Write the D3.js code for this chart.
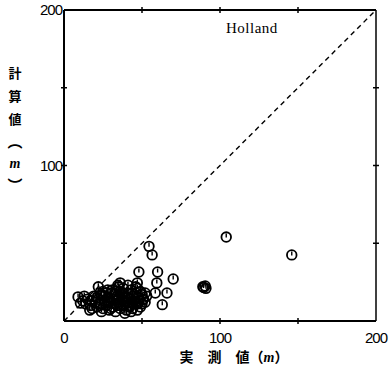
<!DOCTYPE html>
<html>
<head>
<meta charset="utf-8">
<script src="https://cdn.jsdelivr.net/npm/d3@7"></script>
<style>
body { margin: 0; background: #fff; }
svg { display: block; }
</style>
</head>
<body>
<script>
// measured (x) vs computed (y), metres
var measured = [104, 146, 89, 90.5, 91, 89.5, 54.5, 56.5, 48, 60, 70, 59.5, 58.5, 66, 63, 22, 9, 16.5, 34.5, 41, 47, 36, 10.5, 23, 47, 52, 45.5, 50.5,
  12, 14, 15, 17, 18, 19, 20, 21, 22, 23, 24, 25, 26, 27, 28, 29, 29, 30, 31, 32, 33, 33, 34, 35, 36, 36, 37, 38, 38, 39, 40, 40,
  41, 42, 42, 43, 44, 44, 45, 46, 47, 47, 48, 49, 49, 50, 51, 52, 53, 27, 31, 25, 18, 35, 46, 13, 24, 39, 43,
  21, 23, 26, 28, 30, 32, 34, 35, 37, 39, 41, 43, 45, 48, 50, 28, 33, 38, 44, 30, 36, 42];
var computed = [54, 42.5, 22, 22.5, 21, 21.5, 48, 42.5, 31.5, 31.5, 27, 24.5, 18, 18, 10.5, 22, 15.5, 7, 23, 23, 24.5, 24.5, 11.5, 18, 7, 12, 12, 13.5,
  13, 11, 14, 10, 13, 16, 12, 9, 14, 11, 17, 8, 13, 10, 15, 7, 12, 18, 9, 14, 11, 6, 16, 12, 8, 19, 14, 10, 21, 16, 12, 7,
  18, 14, 10, 20, 16, 8, 13, 18, 11, 21, 15, 9, 19, 17, 14, 18, 16, 18, 20, 19, 8, 22, 22, 16, 6, 5, 6,
  15, 10, 16, 12, 13, 17, 10, 14, 17, 12, 15, 12, 17, 12, 11, 20, 19, 18, 11, 8, 10, 9];
var tickVals = [0, 50, 100, 150, 200];
var tickLabels = [0, 100, 200];

var W = 390, H = 373;
var pLeft = 64, pRight = 376, pTop = 10, pBottom = 321;

var svg = d3.select("body").append("svg").attr("width", W).attr("height", H);

var x = d3.scaleLinear().domain([0, 200]).range([pLeft, pRight]);
var y = d3.scaleLinear().domain([0, 200]).range([pBottom, pTop]);

// frame
svg.append("line").attr("x1", pLeft).attr("y1", pTop).attr("x2", pLeft).attr("y2", pBottom).attr("stroke", "#000").attr("stroke-width", 2);
svg.append("line").attr("x1", pLeft).attr("y1", pBottom).attr("x2", pRight).attr("y2", pBottom).attr("stroke", "#000").attr("stroke-width", 2);
svg.append("line").attr("x1", pLeft).attr("y1", pTop).attr("x2", pRight).attr("y2", pTop).attr("stroke", "#000").attr("stroke-width", 2);
svg.append("line").attr("x1", pRight).attr("y1", pTop).attr("x2", pRight).attr("y2", pBottom).attr("stroke", "#000").attr("stroke-width", 1.5);

// cross ticks
var inner = tickVals.slice(1, 4);
svg.selectAll("line.tb").data(inner).enter().append("line").attr("class", "tb")
  .attr("x1", function(d){ return x(d); }).attr("x2", function(d){ return x(d); })
  .attr("y1", pBottom - 3).attr("y2", pBottom + 3).attr("stroke", "#000").attr("stroke-width", 1.5);
svg.selectAll("line.tt").data(inner).enter().append("line").attr("class", "tt")
  .attr("x1", function(d){ return x(d); }).attr("x2", function(d){ return x(d); })
  .attr("y1", pTop - 3).attr("y2", pTop + 3).attr("stroke", "#000").attr("stroke-width", 1.5);
svg.selectAll("line.tl").data(inner).enter().append("line").attr("class", "tl")
  .attr("y1", function(d){ return y(d); }).attr("y2", function(d){ return y(d); })
  .attr("x1", pLeft - 3).attr("x2", pLeft + 3).attr("stroke", "#000").attr("stroke-width", 1.5);
svg.selectAll("line.tr").data(inner).enter().append("line").attr("class", "tr")
  .attr("y1", function(d){ return y(d); }).attr("y2", function(d){ return y(d); })
  .attr("x1", pRight - 3).attr("x2", pRight + 3).attr("stroke", "#000").attr("stroke-width", 1.5);

// tick labels
svg.selectAll("text.xl").data(tickLabels).enter().append("text").attr("class", "xl")
  .attr("x", function(d){ return x(d); }).attr("y", pBottom + 22)
  .attr("text-anchor", "middle").attr("font-family", "Liberation Sans, Arial, sans-serif")
  .attr("font-size", 15).attr("letter-spacing", -1).text(function(d){ return d; });
svg.selectAll("text.yl").data(tickLabels.slice(1)).enter().append("text").attr("class", "yl")
  .attr("x", pLeft - 2).attr("y", function(d){ return y(d) + 5; })
  .attr("text-anchor", "end").attr("font-family", "Liberation Sans, Arial, sans-serif")
  .attr("font-size", 15).attr("letter-spacing", -1).text(function(d){ return d; });

// 1:1 line
svg.append("line").attr("x1", x(0)).attr("y1", y(0)).attr("x2", x(200)).attr("y2", y(200))
  .attr("stroke", "#000").attr("stroke-width", 1.4).attr("stroke-dasharray", "5,4");

// points
var pts = d3.range(measured.length).map(function(i){ return [measured[i], computed[i]]; });
var g = svg.append("g");
var m = g.selectAll("g.pt").data(pts).enter().append("g").attr("class", "pt")
  .attr("transform", function(d){ return "translate(" + x(d[0]) + "," + y(d[1]) + ")"; });
m.append("circle").attr("r", 4.8).attr("fill", "none").attr("stroke", "#000").attr("stroke-width", 1.8);
m.append("line").attr("x1", 0).attr("y1", -3.5).attr("x2", 0).attr("y2", 0.5).attr("stroke", "#000").attr("stroke-width", 1.4);

// title
svg.append("text").attr("x", 226).attr("y", 33).attr("font-family", "Liberation Serif, Times New Roman, serif")
  .attr("font-size", 15).attr("letter-spacing", 0.5).text("Holland");

// axis titles
var yChars = [["計", 78], ["算", 101], ["値", 124]];
svg.selectAll("text.yt").data(yChars).enter().append("text").attr("class", "yt")
  .attr("x", 15).attr("y", function(d){ return d[1]; }).attr("text-anchor", "middle")
  .attr("font-family", "Noto Sans CJK JP").attr("font-weight", "bold").attr("font-size", 13)
  .text(function(d){ return d[0]; });
svg.append("text").attr("x", 15).attr("y", 147).attr("text-anchor", "middle")
  .attr("font-family", "Noto Sans CJK JP").attr("font-weight", "bold").attr("font-size", 15).text("︵");
svg.append("text").attr("x", 15).attr("y", 168).attr("text-anchor", "middle")
  .attr("font-family", "Liberation Serif, serif").attr("font-style", "italic").attr("font-weight", "bold")
  .attr("font-size", 14).text("m");
svg.append("text").attr("x", 15).attr("y", 191).attr("text-anchor", "middle")
  .attr("font-family", "Noto Sans CJK JP").attr("font-weight", "bold").attr("font-size", 15).text("︶");

var xt = svg.append("text").attr("x", 234).attr("y", 362).attr("text-anchor", "middle")
  .attr("font-family", "Noto Sans CJK JP").attr("font-weight", "bold").attr("font-size", 14);
xt.append("tspan").text("実　測　値（");
xt.append("tspan").attr("font-family", "Liberation Serif, serif").attr("font-style", "italic").text("m");
xt.append("tspan").text("）");
</script>
</body>
</html>
